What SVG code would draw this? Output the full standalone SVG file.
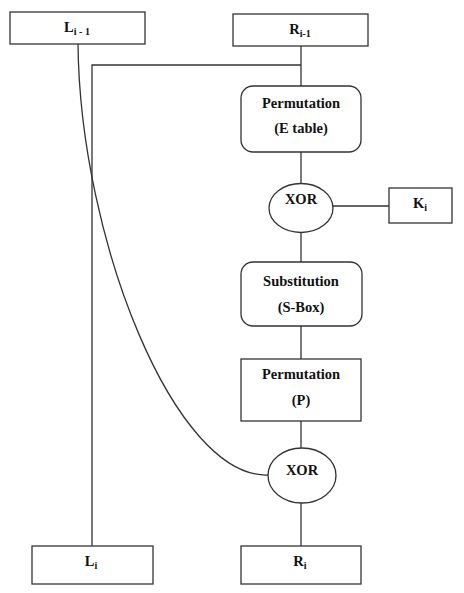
<svg xmlns="http://www.w3.org/2000/svg" width="464" height="593" viewBox="0 0 464 593">
<style>
.box{fill:#fff;stroke:#333;stroke-width:1.3}
.ln{fill:none;stroke:#333;stroke-width:1.3}
text{font-family:"Liberation Serif","Times New Roman",serif;font-weight:bold;font-size:14.5px;fill:#111;text-anchor:middle}
.sub{font-size:10px}
</style>
<rect width="464" height="593" fill="#fff"/>
<g id="connectors">
<path class="ln" d="M301 46 V86"/>
<path class="ln" d="M301 65 H92 V546" stroke="#111"/>
<path class="ln" d="M301 152 V184"/>
<path class="ln" d="M333 206 H389"/>
<path class="ln" d="M301 233 V262"/>
<path class="ln" d="M301 326 V359"/>
<path class="ln" d="M301 421 V448"/>
<path class="ln" d="M301 503 V546"/>
<path class="ln" d="M78 44 C80 240 175 478 268 475" stroke="#444"/>
</g>
<g id="L_i-1">
<rect class="box" x="10" y="12" width="135" height="32"/>
<text x="77" y="32">L<tspan class="sub" dy="3">i - 1</tspan></text>
</g>
<g id="R_i-1">
<rect class="box" x="233" y="14" width="135" height="32"/>
<text x="300" y="34">R<tspan class="sub" dy="3">i-1</tspan></text>
</g>
<g id="perm_e">
<rect class="box" x="241" y="86" width="120" height="66" rx="12"/>
<text x="301" y="108">Permutation</text>
<text x="301" y="133">(E table)</text>
</g>
<g id="xor1">
<ellipse class="box" cx="301" cy="208" rx="32" ry="24.5"/>
<text x="301" y="204">XOR</text>
</g>
<g id="K_i">
<rect class="box" x="389" y="188" width="63" height="35"/>
<text x="420" y="208">K<tspan class="sub" dy="3">i</tspan></text>
</g>
<g id="sbox">
<rect class="box" x="241" y="262" width="121" height="64" rx="12"/>
<text x="301" y="286">Substitution</text>
<text x="301" y="312">(S-Box)</text>
</g>
<g id="perm_p">
<rect class="box" x="241" y="359" width="120" height="62"/>
<text x="301" y="379">Permutation</text>
<text x="301" y="405">(P)</text>
</g>
<g id="xor2">
<ellipse class="box" cx="302" cy="475.5" rx="34" ry="27.5"/>
<text x="302" y="475">XOR</text>
</g>
<g id="L_i">
<rect class="box" x="32" y="546" width="121" height="38"/>
<text x="91" y="566">L<tspan class="sub" dy="3">i</tspan></text>
</g>
<g id="R_i">
<rect class="box" x="241" y="546" width="120" height="38"/>
<text x="300" y="566">R<tspan class="sub" dy="3">i</tspan></text>
</g>
</svg>
